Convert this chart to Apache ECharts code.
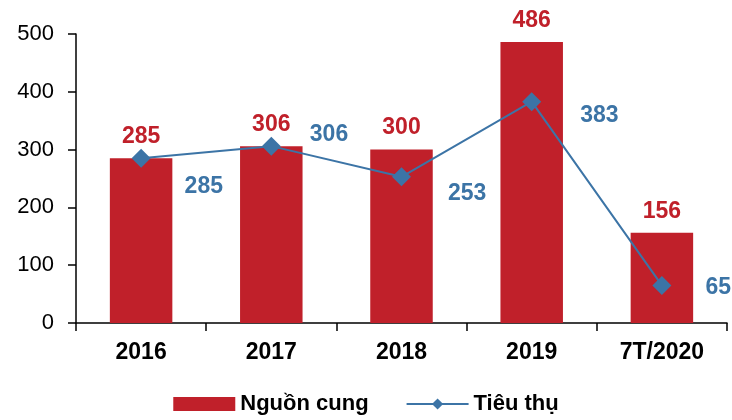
<!DOCTYPE html>
<html>
<head>
<meta charset="utf-8">
<script src="https://cdn.jsdelivr.net/npm/echarts@6/dist/echarts.min.js"></script>
<style>
  html, body { margin: 0; padding: 0; background: #fff; }
  #chart { width: 732px; height: 420px; }
</style>
</head>
<body>
<div id="chart"></div>
<script>
// data
const categories = ['2016', '2017', '2018', '2019', '7T/2020'];
const supply = [285, 306, 300, 486, 156];      // Nguồn cung (bars)
const consumption = [285, 306, 253, 383, 65];  // Tiêu thụ (line)

// label nudges for the blue line labels (style only)
const lineLabelOffsets = [[0, 28], [-5, -11], [3, 17], [5, 14], [0, 2]];

const red = '#C0202A';
const blue = '#3C74A6';

window.onload = function () {
    let myChart = echarts.init(document.getElementById('chart'));

    let lineData = consumption.map((v, i) => ({
        value: v,
        label: { offset: lineLabelOffsets[i] }
    }));

    let option = {
        animation: false,
        textStyle: { fontFamily: 'Liberation Sans, Arial, sans-serif' },
        grid: { left: 76, right: 5, top: 34, bottom: 97 },
        legend: {
            bottom: 0,
            left: 'center',
            itemWidth: 62,
            itemHeight: 14,
            itemGap: 37,
            textStyle: { fontSize: 22, fontWeight: 'bold', color: '#000' },
            data: [{ name: 'Nguồn cung', icon: 'rect' }, { name: 'Tiêu thụ' }]
        },
        xAxis: {
            type: 'category',
            data: categories,
            axisLine: { lineStyle: { color: '#000', width: 1.5 } },
            axisTick: { show: true, length: 8, lineStyle: { color: '#000', width: 1.5 } },
            axisLabel: { color: '#000', fontSize: 23, fontWeight: 'bold', margin: 18 }
        },
        yAxis: {
            type: 'value',
            min: 0,
            max: 500,
            interval: 100,
            splitLine: { show: false },
            axisLine: { show: true, lineStyle: { color: '#000', width: 1.5 } },
            axisTick: { show: true, length: 8, lineStyle: { color: '#000', width: 1.5 } },
            axisLabel: { color: '#000', fontSize: 22, margin: 22 }
        },
        series: [
            {
                name: 'Nguồn cung',
                type: 'bar',
                barWidth: '48%',
                itemStyle: { color: red },
                label: {
                    show: true,
                    position: 'top',
                    distance: 10,
                    color: red,
                    fontSize: 23,
                    fontWeight: 'bold'
                },
                data: supply
            },
            {
                name: 'Tiêu thụ',
                type: 'line',
                symbol: 'diamond',
                symbolSize: 19,
                lineStyle: { color: blue, width: 2 },
                itemStyle: { color: blue },
                label: {
                    show: true,
                    position: 'right',
                    distance: 34,
                    color: blue,
                    fontSize: 23,
                    fontWeight: 'bold'
                },
                data: lineData
            }
        ]
    };
    myChart.setOption(option);
};
</script>
</body>
</html>
